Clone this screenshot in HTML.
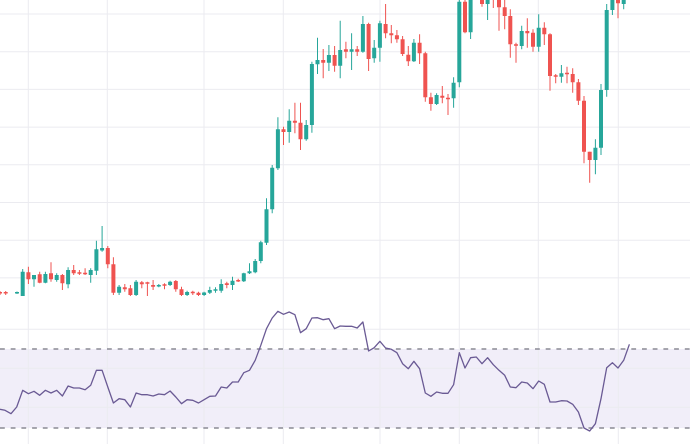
<!DOCTYPE html>
<html><head><meta charset="utf-8"><style>
html,body{margin:0;padding:0;background:#fff;}
svg{display:block;}
</style></head><body>
<svg width="690" height="444" viewBox="0 0 690 444" xmlns="http://www.w3.org/2000/svg">
<rect width="690" height="444" fill="#ffffff"/>
<rect x="0" y="349" width="690" height="79" fill="#f1eef9"/>
<path stroke="#ebebf0" stroke-width="1" fill="none" d="M28.3 0V444M107.3 0V444M204 0V444M283.3 0V444M380 0V444M459.3 0V444M538.3 0V444M618.3 0V444M0 14H690M0 51.7H690M0 89.4H690M0 127.1H690M0 164.8H690M0 202.5H690M0 240.2H690M0 277.9H690M0 329.3H690M0 368.3H690M0 407.3H690"/>
<path stroke="#8a8a94" stroke-width="1.4" stroke-dasharray="4.8 5.9" fill="none" d="M0 349H690M0 428H690"/>
<polyline fill="none" stroke="#6a5a94" stroke-width="1.3" stroke-linejoin="round" points="0,409.3 5,410.3 11,413.7 16.7,407 22.7,390.3 28.4,393.7 34,391.3 39.7,395.3 45.4,390.3 51,393 56.7,390.3 62.4,396 68.1,386 73.7,388 79.4,388 85.1,389.7 90.7,385.3 96.4,370.3 102.1,370.3 107.8,387 113.4,403 119.1,398.7 124.8,399.7 130.4,407 136.1,393 141.8,394.7 147.4,394.7 153.1,396 158.8,394 164.5,394.7 170.1,391 175.8,397 181.5,403.7 187.1,399.7 192.8,400.3 198.5,403 204.1,399.7 209.8,396.3 215.5,396 221.2,387 226.8,388 232.5,382 238.2,382 243.8,372.7 249.5,370.3 255.2,360.3 260.8,345.3 266.5,328.7 272.2,318 277.9,311.3 283.5,314.3 289.2,312 294.9,314.7 300.5,332.7 306.2,328.7 311.9,318 317.5,317.7 323.2,319.7 328.9,318.7 334.6,328.7 340.2,326 345.9,326.3 351.6,326.3 357.2,328 362.9,322 368.6,351 374.2,347.7 379.9,341.3 385.6,348 391.3,349.3 396.9,352.7 402.6,363.7 408.3,368.7 413.9,361.3 419.6,368.7 425.3,393 430.9,396.3 436.6,392 442.3,393.3 448,393.3 453.6,384.7 459.3,352.7 465,368 470.6,357.7 476.3,357 482,363.7 487.6,357.7 493.3,364.7 499,370.3 504.7,375.3 510.3,387 516,387.7 521.7,382 527.3,383 533,388.7 538.7,381 544.3,384.3 550,402 555.7,402 561.4,400.7 567,401 572.7,404.3 578.4,412 584,428 589.7,431 595.4,423.7 601,398.7 606.7,367.7 612.4,362.7 618,368 623.7,360.3 629.4,344.3"/>
<path stroke="#26a69a" stroke-width="1" fill="none" d="M17 291.5V294M22.7 269V296M34 275V286.7M45.4 271.7V283.3M56.7 273.3V281.7M68.1 267.3V288.3M90.7 268.3V282.7M96.4 240.7V275M102.1 226V251.7M119.1 285V295M136.1 280V296M158.8 284V287.3M170.1 280.7V286M187.1 290.7V296M204.1 291.7V296M209.8 286.7V294M215.5 287.3V292.7M221.2 279.3V292.7M232.5 276.7V290M243.8 272.7V282M249.5 263.3V274M255.2 259V273.3M260.8 240.7V263.3M266.5 198.3V245M272.2 165V213.3M277.9 117.3V170M289.2 109.3V142.7M306.2 120V140.7M311.9 61.7V132.7M317.5 37.7V74M328.9 45V71M340.2 20.7V78.3M351.6 33.3V70M362.9 16V52.7M374.2 40V62.7M379.9 20.7V61.7M413.9 39V62M436.6 93.3V105M453.6 77.3V107.7M459.3 -3V87.3M470.6 -20V39M487.6 -15V20M521.7 25.7V49.3M538.7 14.3V51.7M561.4 65V82.7M595.4 139.3V174.3M601 84V155M606.7 4V96.7M612.4 -8V15M623.7 -8V9.3"/>
<path stroke="#26a69a" stroke-width="4" fill="none" d="M17 292V293.5M22.7 271.7V296M34 275V279.3M45.4 274V282.7M56.7 275V280M68.1 270V284.3M90.7 270V275M96.4 249.3V270.7M102.1 248V250.5M119.1 286.7V292.7M136.1 281.7V295M158.8 285V286.5M170.1 281.7V285M187.1 292V295M204.1 292.5V295M209.8 290V292.7M215.5 289.3V290.8M221.2 284V290.7M232.5 280.7V285M243.8 273.3V281.3M249.5 271.3V273.3M255.2 261V272.3M260.8 242.3V261M266.5 209.3V242.7M272.2 167.7V209.3M277.9 129.3V168.3M289.2 120.7V132M306.2 125V139.3M311.9 64V125M317.5 60V64.3M328.9 55V62.7M340.2 50V65.7M351.6 49.3V51.7M362.9 24V51.7M374.2 47.7V58.3M379.9 23.3V47.7M413.9 42.7V61.3M436.6 95V104M453.6 82.7V98.3M459.3 1.7V82.3M470.6 -15V32.3M487.6 -10V4M521.7 31V46M538.7 27.7V46.7M561.4 73.3V76.7M595.4 147.7V160M601 90V147.7M606.7 10V90M612.4 -5V10M623.7 -5V4"/>
<path stroke="#ef5350" stroke-width="1" fill="none" d="M0 291V295M5.7 291V295M28.4 266.7V284M39.7 271.7V283.3M51 262.3V281.7M62.4 274V290M73.7 265V275M79.4 270V275M85.1 268.3V275M107.8 246V268.3M113.4 257.3V295M124.8 284V291.7M130.4 285V296M141.8 281V288.3M147.4 281.7V296M153.1 280V290M164.5 283.3V289.3M175.8 280V291.7M181.5 286.7V296M192.8 290.7V295M198.5 291.7V296M226.8 281.7V288.3M238.2 278.7V282M283.5 126.7V145M294.9 102.7V133.3M300.5 102.7V150M323.2 49V78.3M334.6 46V71.7M345.9 41.7V58.3M357.2 46V56M368.6 22.7V71M385.6 4V38.3M391.3 25V43.3M396.9 30V42.7M402.6 36V56M408.3 46V66M419.6 34.3V64M425.3 51.7V101.7M430.9 92.7V110.7M442.3 86V103.3M448 94V115M465 -3V33.3M482 -15V6.7M493.3 -20V8M499 -10V30.7M504.7 -3V29.3M510.3 9.3V57.7M516 42.7V62.7M527.3 18.3V47.7M533 29.3V51.7M544.3 22.3V45M550 33.3V90.7M555.7 74V83.3M567 66.7V83.3M572.7 68.3V92.7M578.4 79V105M584 96V163.3M589.7 151.7V182.7M618 -8V18.3"/>
<path stroke="#ef5350" stroke-width="4" fill="none" d="M0 292V293.5M5.7 292V293.5M28.4 272.3V279.3M39.7 274.3V282.7M51 273.3V279.3M62.4 275V283.3M73.7 270V273.3M79.4 272.3V273.8M85.1 272.7V274.2M107.8 248V264.3M113.4 264.3V292.7M124.8 287.3V289.3M130.4 288.3V295M141.8 282.3V284.3M147.4 282.3V283.8M153.1 285V286.7M164.5 284.3V285.8M175.8 281V289.3M181.5 289.3V295M192.8 291.7V293.3M198.5 292.7V295M226.8 283.3V285M238.2 280V281.5M283.5 129.3V132M294.9 120.7V122.7M300.5 122.7V139.3M323.2 60V62.7M334.6 55V65.7M345.9 49.3V51.7M357.2 49.3V51.7M368.6 24V59M385.6 24V33.3M391.3 33.3V35.3M396.9 35.3V39.3M402.6 39.3V54M408.3 54.7V61.3M419.6 42.7V53.3M425.3 53.3V97.3M430.9 97.3V104M442.3 95.7V97.7M448 97.7V99.2M465 1.7V32.3M482 -10V4M493.3 -15V-2M499 -5V7.3M504.7 7.3V16M510.3 16V44.3M516 44.3V45.8M527.3 31V33.3M533 32.7V46.7M544.3 27.7V34.3M550 34.3V76M555.7 75.3V76.8M567 72.7V74.2M572.7 74V82.3M578.4 82.3V100.7M584 100.7V151.7M589.7 151.7V160M618 -5V3.3"/>
</svg>
</body></html>
